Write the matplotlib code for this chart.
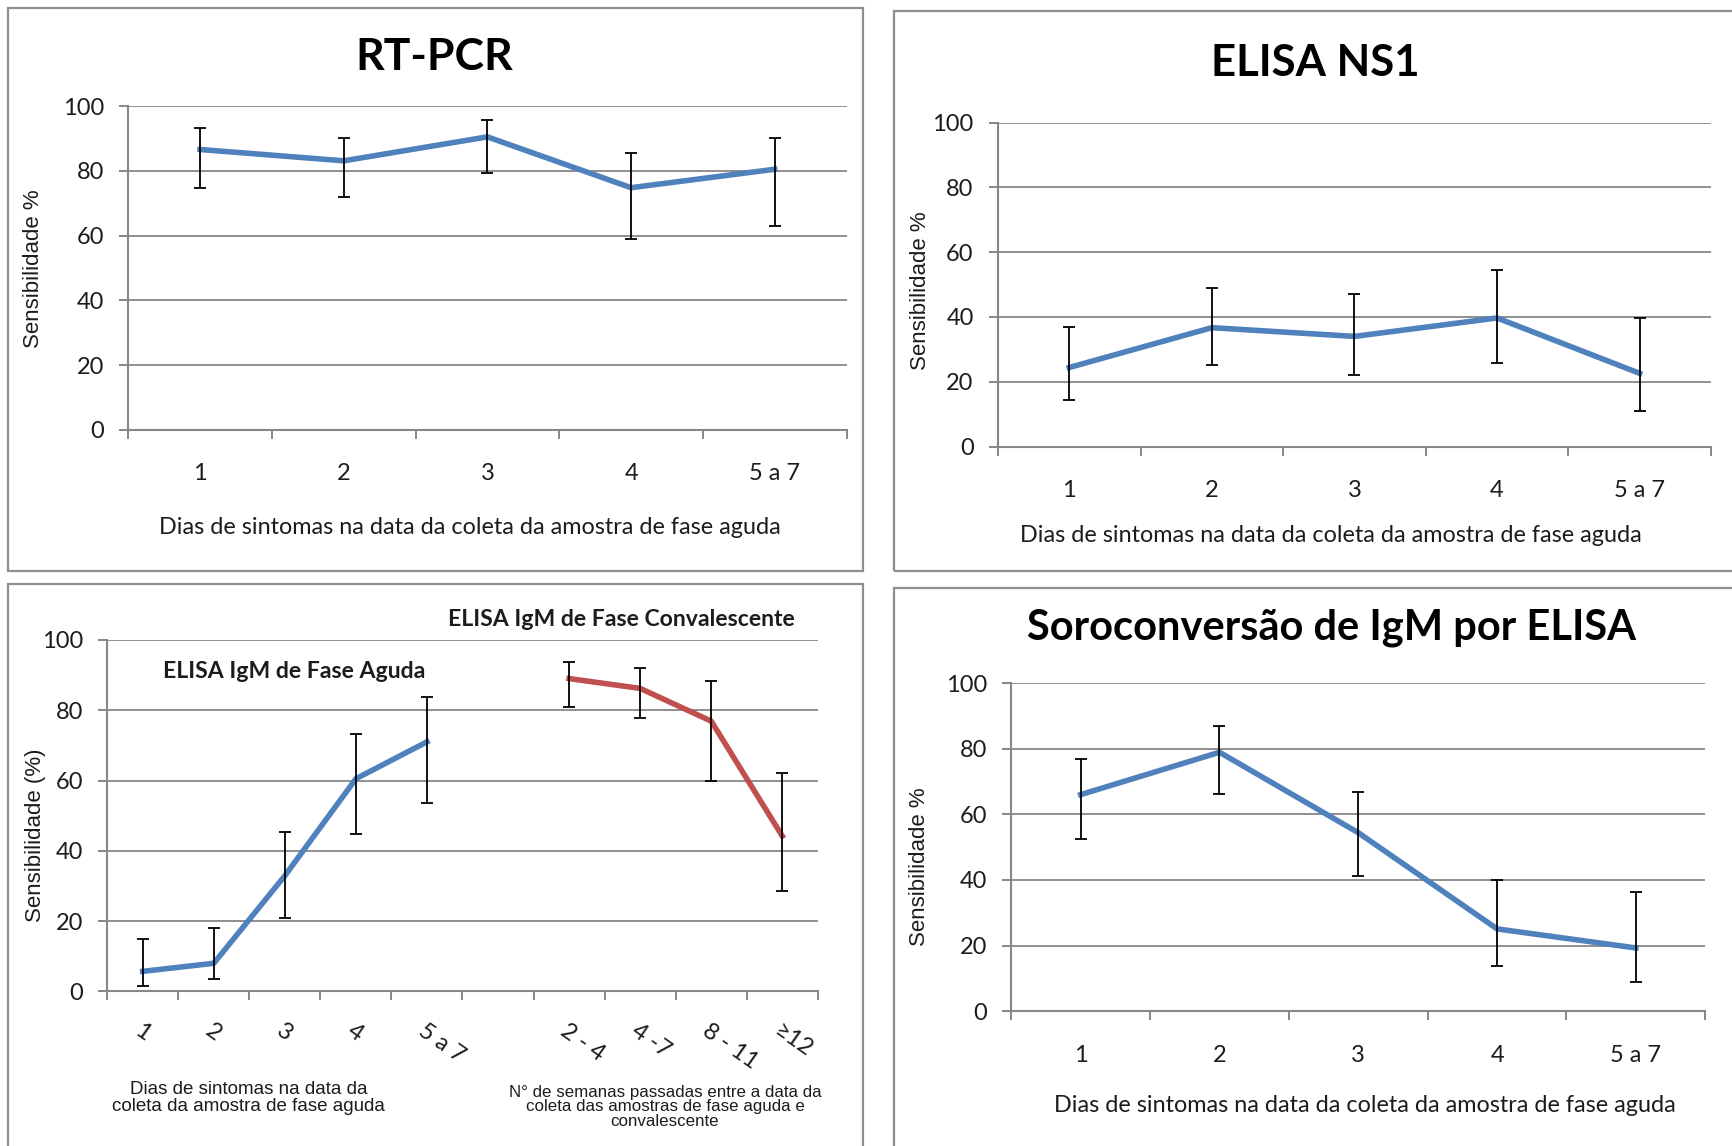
import matplotlib
matplotlib.use("Agg")
import matplotlib.pyplot as plt
from matplotlib.patches import Rectangle
import numpy as np

W, H = 1733, 1146

# categorias
dias = ['1', '2', '3', '4', '5 a 7']
semanas = ['2 - 4', '4 -7', '8 - 11', '\u226512']

# RT-PCR
rtpcr = [86.6, 83.1, 90.5, 74.8, 80.5]
rtpcr_lo = [74.8, 71.8, 79.3, 59.1, 63.0]
rtpcr_hi = [93.2, 90.1, 95.6, 85.6, 90.1]

# ELISA NS1
ns1 = [24.4, 36.7, 34.0, 39.7, 22.6]
ns1_lo = [14.5, 25.2, 22.0, 25.8, 10.9]
ns1_hi = [37.0, 49.0, 47.2, 54.5, 39.7]

# ELISA IgM fase aguda / convalescente
igm_ag = [5.7, 8.0, 32.9, 60.5, 71.0]
igm_ag_lo = [1.6, 3.5, 20.9, 44.8, 53.5]
igm_ag_hi = [14.9, 17.9, 45.3, 73.3, 83.7]

igm_cv = [89.0, 86.2, 76.9, 44.2]
igm_cv_lo = [81.0, 77.8, 60.0, 28.5]
igm_cv_hi = [93.6, 92.0, 88.3, 62.0]

# Soroconversao
soro = [66.0, 78.9, 54.4, 25.1, 19.3]
soro_lo = [52.6, 66.2, 41.3, 13.7, 8.8]
soro_hi = [77.0, 86.9, 66.9, 40.0, 36.2]

BLUE = '#4F81BD'
RED = '#C0504D'
GRAY = '#878787'
TXT = '#1c1c1c'
NUMFONT = 'Lato'
LABFONT = 'Liberation Sans'
XLAB = 'Dias de sintomas na data da coleta da amostra de fase aguda'


def box(l, t, r, b):
    return [l / W, 1 - b / H, (r - l) / W, (b - t) / H]


def frame(fig, l, t, r, b):
    fig.add_artist(Rectangle((l / W, 1 - b / H), (r - l) / W, (b - t) / H,
                             transform=fig.transFigure, fill=False,
                             edgecolor='#8f8f8f', lw=1.6))


def base_axes(fig, rect, ncat):
    ax = fig.add_axes(rect)
    ax.set_xlim(-0.5, ncat - 0.5)
    ax.set_ylim(0, 100)
    ax.set_yticks([0, 20, 40, 60, 80, 100])
    ax.yaxis.grid(True, color=GRAY, lw=1.3)
    ax.set_axisbelow(True)
    for s in ['top', 'right']:
        ax.spines[s].set_visible(False)
    for s in ['left', 'bottom']:
        ax.spines[s].set_color(GRAY)
        ax.spines[s].set_linewidth(1.5)
    ax.tick_params(axis='y', length=6.5, width=1.4, color=GRAY, pad=11,
                   labelsize=17, labelcolor=TXT)
    ax.set_xticks(np.arange(ncat))
    ax.set_xticks(np.arange(ncat + 1) - 0.5, minor=True)
    ax.tick_params(axis='x', which='major', length=0, labelsize=17,
                   labelcolor=TXT)
    ax.tick_params(axis='x', which='minor', length=6.5, width=1.4,
                   color=GRAY)
    for lab in ax.get_yticklabels():
        lab.set_family(NUMFONT)
    return ax


def serie(ax, x, y, lo, hi, color):
    y = np.array(y)
    err = [y - np.array(lo), np.array(hi) - y]
    ax.plot(x, y, color=color, lw=4, solid_joinstyle='round', zorder=3)
    ax.errorbar(x, y, yerr=err, fmt='none', ecolor='black', elinewidth=1.3,
                capsize=4.5, capthick=1.3, zorder=4)


def ylab(ax, text, x, y):
    ax.set_ylabel(text, family=LABFONT, fontsize=16, color=TXT)
    ax.yaxis.label.set_va('center')
    ax.yaxis.set_label_coords(x, y)


def xlab(ax, text, x, y):
    ax.set_xlabel(text, family=NUMFONT, fontsize=16.8, color=TXT)
    ax.xaxis.label.set_va('center')
    ax.xaxis.set_label_coords(x, y)


fig = plt.figure(figsize=(W / 100, H / 100), dpi=100)
fig.patch.set_facecolor('white')

frame(fig, 8, 8, 863, 571)
frame(fig, 894, 11, 1745, 571)
frame(fig, 8, 584, 863, 1160)
frame(fig, 894, 588, 1745, 1160)

# RT-PCR
ax1 = base_axes(fig, box(128.2, 106.1, 846.6, 429.9), 5)
serie(ax1, np.arange(5), rtpcr, rtpcr_lo, rtpcr_hi, BLUE)
ax1.set_xticklabels(dias, family=NUMFONT)
ax1.tick_params(axis='x', which='major', pad=24)
ylab(ax1, 'Sensibilidade %', -0.1325, 0.497)
xlab(ax1, XLAB, 0.476, -0.30)
fig.text(434 / W, 1 - 57.5 / H, 'RT-PCR', family=NUMFONT, weight='bold',
         fontsize=32, color='black', ha='center', va='center')

# ELISA NS1
ax2 = base_axes(fig, box(998, 122.7, 1710.9, 446.5), 5)
serie(ax2, np.arange(5), ns1, ns1_lo, ns1_hi, BLUE)
ax2.set_xticklabels(dias, family=NUMFONT)
ax2.tick_params(axis='x', which='major', pad=24)
ylab(ax2, 'Sensibilidade %', -0.1086, 0.48)
xlab(ax2, XLAB, 0.4666, -0.276)
fig.text(1315 / W, 1 - 63 / H, 'ELISA NS1', family=NUMFONT, weight='bold',
         fontsize=31.5, color='black', ha='center', va='center')

# ELISA IgM
ax3 = base_axes(fig, box(107.2, 639.9, 817.8, 991.4), 10)
serie(ax3, np.arange(5), igm_ag, igm_ag_lo, igm_ag_hi, BLUE)
serie(ax3, np.arange(6, 10), igm_cv, igm_cv_lo, igm_cv_hi, RED)
ax3.set_xticklabels(dias + [''] + semanas, family=NUMFONT, rotation=-35,
                    ha='left', va='top', rotation_mode='anchor')
ax3.tick_params(axis='x', which='major', pad=21)
ylab(ax3, 'Sensibilidade (%)', -0.101, 0.4435)
ax3.text(0.723, 1.059, 'ELISA IgM de Fase Convalescente', transform=ax3.transAxes,
         family=NUMFONT, weight='bold', fontsize=16.6, color=TXT,
         ha='center', va='center')
ax3.text(0.263, 0.9115, 'ELISA IgM de Fase Aguda', transform=ax3.transAxes,
         family=NUMFONT, weight='bold', fontsize=16.6, color=TXT,
         ha='center', va='center')
fig.text(248.7 / W, 1 - 1098 / H,
         'Dias de sintomas na data da\ncoleta da amostra de fase aguda',
         family=LABFONT, fontsize=13.5, color=TXT, ha='center', va='center',
         linespacing=1.0)
fig.text(665 / W, 1 - 1107 / H,
         'N\u00b0 de semanas passadas entre a data da\ncoleta das amostras de fase aguda e\nconvalescente',
         family=LABFONT, fontsize=12.2, color=TXT, ha='center', va='center',
         linespacing=0.95)

# Soroconversao
ax4 = base_axes(fig, box(1011.3, 683, 1705.3, 1011.3), 5)
serie(ax4, np.arange(5), soro, soro_lo, soro_hi, BLUE)
ax4.set_xticklabels(dias, family=NUMFONT)
ax4.tick_params(axis='x', which='major', pad=24)
ylab(ax4, 'Sensibilidade %', -0.132, 0.441)
xlab(ax4, XLAB, 0.5098, -0.286)
fig.text(1332 / W, 1 - 628 / H, 'Soroconvers\u00e3o de IgM por ELISA',
         family=NUMFONT, weight='bold', fontsize=30, color='black',
         ha='center', va='center')

fig.savefig('out.png', dpi=100, facecolor='white')
